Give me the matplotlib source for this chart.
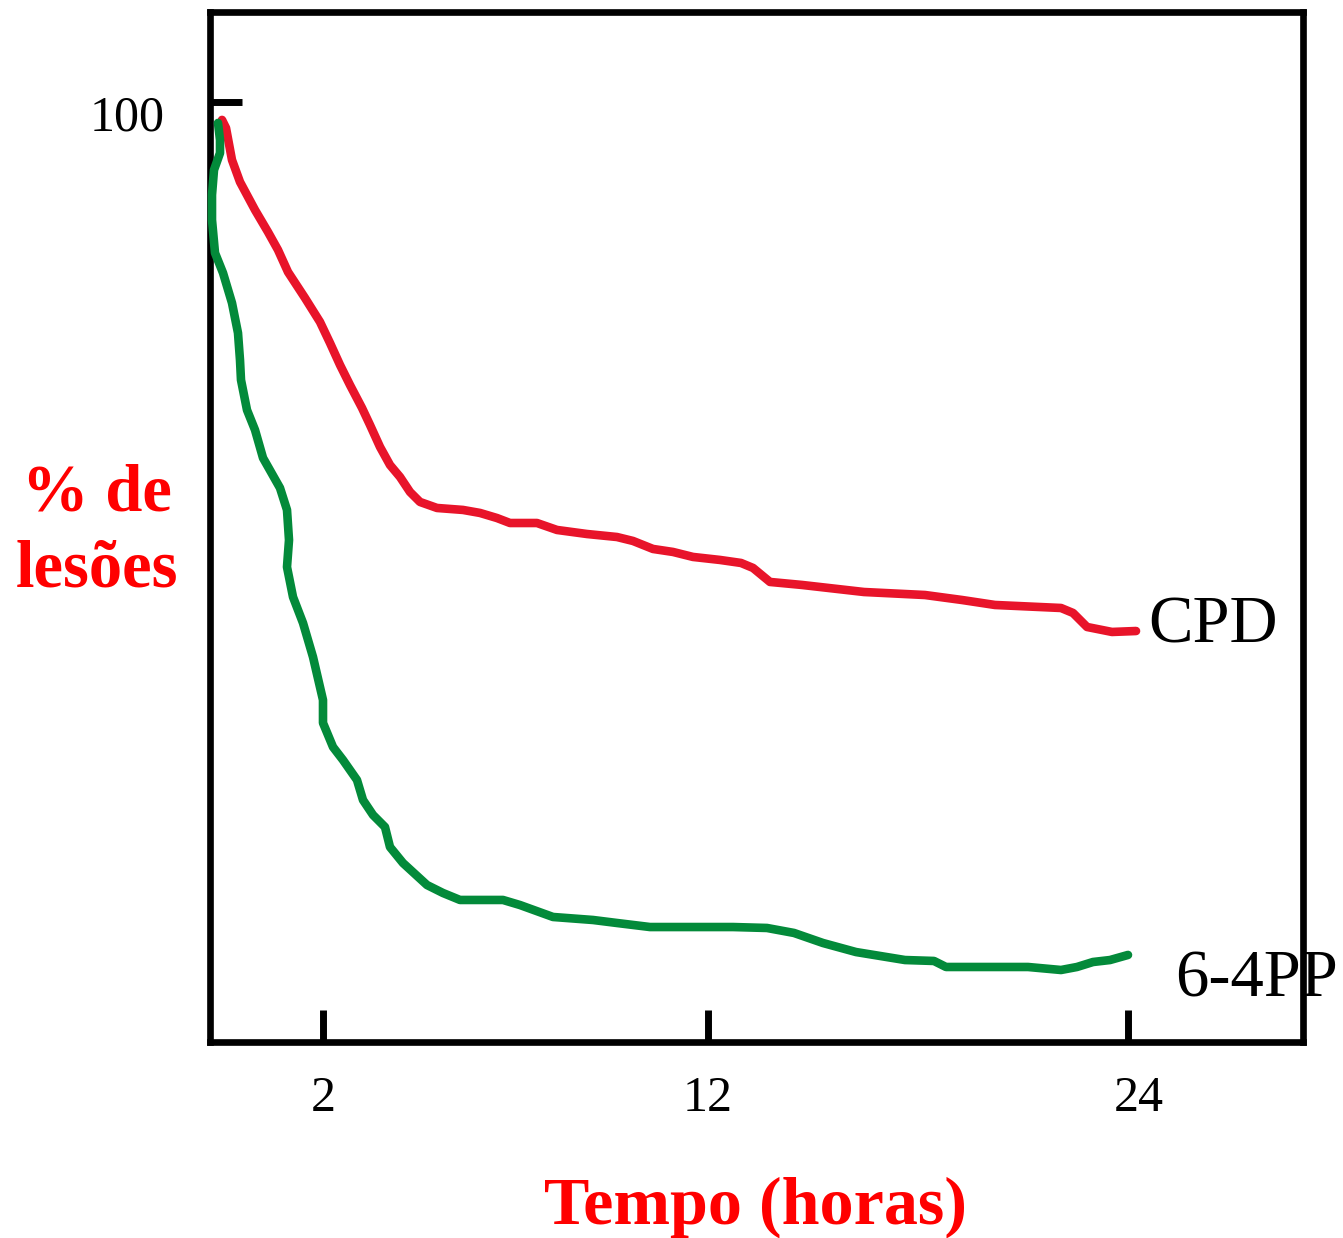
import numpy as np
import matplotlib.pyplot as plt
from matplotlib.transforms import ScaledTranslation

# tempo (horas) e % de lesões
cpd_horas = [-0.623, -0.519, -0.364, -0.156, 0.234, 0.571, 0.831, 1.091, 1.532, 1.922,
             2.182, 2.442, 2.701, 3.013, 3.221, 3.481, 3.740, 4.000, 4.260, 4.519,
             4.961, 5.636, 6.078, 6.519, 6.857, 7.558, 8.078, 8.857, 9.636, 10.052,
             10.571, 11.091, 11.610, 12.343, 12.943, 13.286, 13.771, 14.686, 16.457,
             18.2, 19.257, 20.2, 22.086, 22.429, 22.829, 23.543, 24.229]
cpd_lesoes = [98.09, 97.23, 93.83, 91.49, 88.51, 86.17, 84.26, 81.91, 79.15, 76.60,
              74.36, 72.02, 69.89, 67.45, 65.64, 63.30, 61.38, 60.11, 58.51, 57.45,
              56.81, 56.60, 56.28, 55.74, 55.21, 55.21, 54.47, 54.04, 53.72, 53.30,
              52.45, 52.13, 51.60, 51.28, 50.96, 50.43, 48.94, 48.62, 47.87,
              47.55, 47.02, 46.49, 46.17, 45.64, 44.15, 43.62, 43.72]

pp64_horas = [-0.727, -0.675, -0.675, -0.831, -0.883, -0.883, -0.805, -0.597, -0.364, -0.208,
              -0.156, -0.130, 0.026, 0.234, 0.442, 0.883, 1.065, 1.117, 1.065, 1.221,
              1.481, 1.740, 2.0, 2.0, 2.260, 2.519, 2.883, 3.039, 3.299, 3.610,
              3.740, 4.078, 4.701, 5.117, 5.558, 6.675, 7.117, 7.974, 9.013, 9.636,
              10.494, 11.792, 12.714, 13.686, 14.457, 15.286, 16.229, 17.629, 18.457, 18.8,
              21.143, 22.086, 22.543, 23.0, 23.486, 24.0]
pp64_lesoes = [97.77, 95.96, 94.57, 92.77, 90.11, 87.45, 83.94, 81.81, 78.62, 75.43,
               72.55, 70.43, 67.23, 65.11, 62.13, 58.94, 56.60, 53.40, 50.53, 47.34,
               44.57, 40.96, 36.38, 33.94, 31.38, 30.00, 27.87, 25.74, 24.15, 22.87,
               20.74, 19.04, 16.70, 15.85, 15.11, 15.11, 14.57, 13.30, 12.98, 12.66,
               12.23, 12.23, 12.23, 12.13, 11.60, 10.53, 9.57, 8.72, 8.62, 7.98,
               7.98, 7.66, 7.98, 8.51, 8.72, 9.26]

x_ticks = [2, 12, 24]
y_ticks = [100]

# o eixo desenhado à mão não é bem linear: 2->12 mais largo que 12->24
escala_h = [-1, 2, 12, 24, 30]
escala_u = [-115.5, 0, 385, 805, 1015]


def forward(h):
    return np.interp(h, escala_h, escala_u)


def inverse(u):
    return np.interp(u, escala_u, escala_h)


plt.rcParams['font.family'] = ['Liberation Serif', 'DejaVu Serif']

fig = plt.figure(figsize=(13.43, 12.38), dpi=100)
ax = fig.add_axes([210 / 1343, 196 / 1238, 1093 / 1343, 1030 / 1238])
ax.set_xscale('function', functions=(forward, inverse))

ax.plot(cpd_horas, cpd_lesoes, color='#E8142A', lw=6.2, solid_capstyle='round',
        solid_joinstyle='round', clip_on=False, zorder=3)
ax.plot(pp64_horas, pp64_lesoes, color='#038A3A', lw=6.2, solid_capstyle='round',
        solid_joinstyle='round', clip_on=False, zorder=3)

ax.set_xlim(-0.935, 29.0)
ax.set_ylim(0, 109.57)

for s in ax.spines.values():
    s.set_linewidth(4.8)
    s.set_color('black')
    s.set_capstyle('projecting')

ax.set_xticks(x_ticks)
ax.set_yticks(y_ticks)
ax.set_xticklabels([str(t) for t in x_ticks])
ax.set_yticklabels([str(t) for t in y_ticks])
ax.xaxis.set_minor_locator(plt.NullLocator())
ax.tick_params(axis='both', direction='in', length=23, width=5, labelsize=36, colors='black')
ax.tick_params(axis='x', pad=24)
ax.tick_params(axis='y', pad=33)
for lab in ax.get_yticklabels():
    lab.set_transform(lab.get_transform() + ScaledTranslation(0, -8 / 72, fig.dpi_scale_trans))
# o "24" está um pouco à direita do traço no original
lab24 = ax.get_xticklabels()[-1]
lab24.set_transform(lab24.get_transform() + ScaledTranslation(8 / 72, 0, fig.dpi_scale_trans))

ax.text(24.57, 42.45, 'CPD', fontsize=48, ha='left', va='baseline', clip_on=False)
ax.text(25.34, 4.79, '6-4PP', fontsize=48, ha='left', va='baseline', clip_on=False, zorder=1)

fig.text(97 / 1343, 1 - 532 / 1238, '% de\nlesões', color='#FF0000', fontsize=48,
         fontweight='bold', ha='center', va='center', multialignment='center',
         linespacing=1.33)
fig.text(755 / 1343, 1 - 1224 / 1238, 'Tempo (horas)', color='#FF0000', fontsize=49,
         fontweight='bold', ha='center', va='baseline')

fig.savefig('out.png', dpi=100, facecolor='white')
